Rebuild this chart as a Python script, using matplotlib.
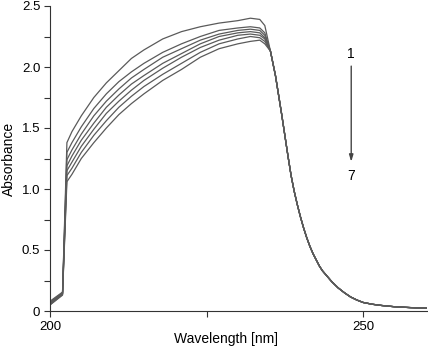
import matplotlib
matplotlib.use("Agg")
import matplotlib.pyplot as plt
from matplotlib.ticker import FixedLocator, FuncFormatter

plt.rcParams['font.family'] = ['Liberation Sans', 'DejaVu Sans']

# Wavelength grid (nm): rising part is per-spectrum, decay part is shared
wl_head = [200, 202, 202.7, 203.5, 205, 207, 209, 211, 213, 215, 218, 221,
           224, 227, 230, 232, 233.5, 234.3]
wl_tail = [235.2, 236, 237, 238, 238.5, 239, 239.5, 240, 240.5, 241, 241.5,
           242, 242.5, 243, 243.5, 244, 245, 246, 247, 248, 249, 250, 251.5,
           253, 255, 257.5, 260.5]

# Absorbance of spectra 1..7 on the rising part
abs_1 = [0.08, 0.155, 1.38, 1.47, 1.60, 1.75, 1.87, 1.97, 2.07, 2.14, 2.23, 2.29,
         2.33, 2.36, 2.38, 2.40, 2.39, 2.34]
abs_2 = [0.07, 0.15, 1.30, 1.38, 1.51, 1.66, 1.78, 1.88, 1.96, 2.03, 2.12, 2.19,
         2.25, 2.30, 2.32, 2.33, 2.32, 2.28]
abs_3 = [0.07, 0.145, 1.24, 1.32, 1.45, 1.60, 1.72, 1.82, 1.91, 1.98, 2.08, 2.15,
         2.22, 2.27, 2.30, 2.31, 2.30, 2.26]
abs_4 = [0.06, 0.14, 1.19, 1.27, 1.40, 1.54, 1.67, 1.77, 1.86, 1.93, 2.03, 2.11,
         2.19, 2.25, 2.28, 2.29, 2.28, 2.24]
abs_5 = [0.06, 0.14, 1.15, 1.22, 1.35, 1.49, 1.62, 1.72, 1.81, 1.89, 1.99, 2.08,
         2.16, 2.22, 2.26, 2.27, 2.26, 2.23]
abs_6 = [0.05, 0.135, 1.11, 1.17, 1.30, 1.44, 1.56, 1.67, 1.76, 1.84, 1.94, 2.03,
         2.12, 2.19, 2.23, 2.25, 2.24, 2.21]
abs_7 = [0.05, 0.13, 1.06, 1.12, 1.25, 1.38, 1.50, 1.61, 1.70, 1.78, 1.89, 1.98,
         2.08, 2.15, 2.19, 2.21, 2.22, 2.19]
abs_tail = [2.13, 1.93, 1.61, 1.27, 1.11, 0.98, 0.87, 0.77, 0.68, 0.60, 0.53,
            0.47, 0.42, 0.37, 0.33, 0.30, 0.24, 0.19, 0.15, 0.115, 0.09, 0.07,
            0.055, 0.045, 0.035, 0.028, 0.022]

spectra = [abs_1, abs_2, abs_3, abs_4, abs_5, abs_6, abs_7]
y_ticks = [0, 0.5, 1.0, 1.5, 2.0, 2.5]
y_tick_labels = ["0", "0.5", "1.0", "1.5", "2.0", "2.5"]

fig = plt.figure(figsize=(4.28, 3.49), dpi=100)
ax = fig.add_axes([50 / 428, 38 / 349, 377 / 428, 305 / 349])

for s in spectra:
    ax.plot(wl_head + wl_tail, s + abs_tail, color="#5a5a5a", linewidth=0.9)

ax.set_xlim(200, 260.2)
ax.set_ylim(0, 2.5)

ax.spines["top"].set_visible(False)
ax.spines["right"].set_visible(False)
ax.spines["left"].set_color("#333333")
ax.spines["bottom"].set_color("#333333")

ax.xaxis.set_major_locator(FixedLocator([200, 250]))
ax.xaxis.set_minor_locator(FixedLocator([225]))
ax.yaxis.set_major_locator(FixedLocator(y_ticks))
ax.yaxis.set_minor_locator(FixedLocator([0.25, 0.75, 1.25, 1.75, 2.25]))
ax.yaxis.set_major_formatter(FuncFormatter(lambda v, p: y_tick_labels[y_ticks.index(round(v, 2))]))
ax.tick_params(which="both", direction="out", length=4, width=0.8,
               color="#333333", labelsize=9.5, pad=3)

ax.set_xlabel("Wavelength [nm]", fontsize=10)
ax.xaxis.set_label_coords((226 - 50) / 377, -0.07)
ax.set_ylabel("Absorbance", fontsize=10, labelpad=4)

ax.text(248.1, 2.11, "1", fontsize=10, ha="center", va="center")
ax.text(248.1, 1.11, "7", fontsize=10, ha="center", va="center")
ax.annotate("", xy=(248.1, 1.20), xytext=(248.1, 2.03),
            arrowprops=dict(arrowstyle="-|>,head_length=0.4,head_width=0.12",
                            color="#444444", lw=1))

fig.savefig("out.png", dpi=100)
